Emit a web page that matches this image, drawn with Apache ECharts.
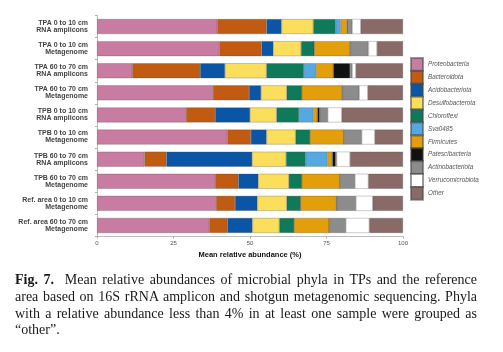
<!DOCTYPE html>
<html>
<head>
<meta charset="utf-8">
<script src="https://cdn.jsdelivr.net/npm/echarts@6/dist/echarts.min.js"></script>
<style>
  html, body { margin: 0; padding: 0; background: #fff; }
  #main { position: absolute; left: 0; top: 0; width: 503px; height: 352px; }
  #caption {
    position: absolute; left: 15px; top: 272px; width: 462px;
    font-family: "Liberation Serif", "DejaVu Serif", serif;
    font-size: 14px; line-height: 16.8px; color: #1a1a1a;
    text-align: justify;
  }
</style>
</head>
<body>
<div id="main"></div>
<div id="caption"><b>Fig. 7.</b>&nbsp; Mean relative abundances of microbial phyla in TPs and the reference area based on 16S rRNA amplicon and shotgun metagenomic sequencing. Phyla with a relative abundance less than 4% in at least one sample were grouped as “other”.</div>
<script>
// 样本（从上到下）
var samples = [
  'TPA 0 to 10 cm\nRNA amplicons',
  'TPA 0 to 10 cm\nMetagenome',
  'TPA 60 to 70 cm\nRNA amplicons',
  'TPA 60 to 70 cm\nMetagenome',
  'TPB 0 to 10 cm\nRNA amplicons',
  'TPB 0 to 10 cm\nMetagenome',
  'TPB 60 to 70 cm\nRNA amplicons',
  'TPB 60 to 70 cm\nMetagenome',
  'Ref. area 0 to 10 cm\nMetagenome',
  'Ref. area 60 to 70 cm\nMetagenome'
];

// 各门的相对丰度 (%)
var proteobacteria    = [39.3, 40.0, 11.5, 37.9, 29.1, 42.6, 15.5, 38.6, 38.9, 36.7];
var bacteroidota      = [16.1, 13.8, 22.2, 11.8,  9.5,  7.7,  7.2,  7.6,  6.2,  5.9];
var acidobacteriota   = [ 4.9,  3.8,  8.1,  3.9, 11.4,  5.1, 28.0,  6.5,  7.3,  8.2];
var desulfobacterota  = [10.4,  9.1, 13.6,  8.4,  8.7,  9.5, 11.1, 10.0,  9.6,  8.8];
var chloroflexi       = [ 7.3,  4.3, 12.2,  4.9,  7.3,  4.7,  6.4,  4.2,  4.5,  4.8];
var sva0485           = [ 1.6,  0,    4.0,  0,    4.7,  0,    7.1,  0,    0,    0  ];
var firmicutes        = [ 2.1, 11.8,  5.6, 13.3,  1.3, 11.1,  1.6, 12.5, 11.8, 11.5];
var patescibacteria   = [ 0.3,  0,    5.5,  0,    0.8,  0,    1.1,  0,    0,    0  ];
var actinobacteriota  = [ 1.4,  5.9,  0.7,  5.5,  2.6,  5.8,  0.3,  4.9,  6.3,  5.4];
var verrucomicrobiota = [ 2.8,  2.8,  1.2,  2.8,  4.6,  4.3,  4.4,  4.4,  5.5,  7.7];
var other             = [13.8,  8.5, 15.4, 11.5, 20.0,  9.2, 17.3, 11.3,  9.9, 11.0];

var xTicks = [0, 25, 50, 75, 100];

var phyla = [
  { name: 'Proteobacteria',    data: proteobacteria,    color: '#C97CA1' },
  { name: 'Bacteroidota',      data: bacteroidota,      color: '#C25B12' },
  { name: 'Acidobacteriota',   data: acidobacteriota,   color: '#0B55A6' },
  { name: 'Desulfobacterota',  data: desulfobacterota,  color: '#FADE5C' },
  { name: 'Chloroflexi',       data: chloroflexi,       color: '#0E7A5A' },
  { name: 'Sva0485',           data: sva0485,           color: '#56A8E0' },
  { name: 'Firmicutes',        data: firmicutes,        color: '#E39E0C' },
  { name: 'Patescibacteria',   data: patescibacteria,   color: '#111111' },
  { name: 'Actinobacteriota',  data: actinobacteriota,  color: '#8C8C8C' },
  { name: 'Verrucomicrobiota', data: verrucomicrobiota, color: '#FFFFFF' },
  { name: 'Other',             data: other,             color: '#8A6A66' }
];

var chart = echarts.init(document.getElementById('main'), null, { renderer: 'canvas' });

var series = phyla.map(function (p) {
  return {
    name: p.name,
    type: 'bar',
    stack: 'all',
    barWidth: 15,
    data: p.data,
    itemStyle: { color: p.color, borderColor: 'rgba(70,70,70,0.55)', borderWidth: 0.5 },
    emphasis: { disabled: true }
  };
});

chart.setOption({
  animation: false,
  backgroundColor: '#fff',
  grid: { left: 97, top: 15.5, width: 306, height: 221, containLabel: false },
  legend: {
    orient: 'vertical',
    left: 410,
    top: 57,
    padding: 0,
    itemWidth: 12,
    itemHeight: 12.8,
    itemGap: -1.9,
    icon: 'rect',
    data: phyla.map(function (p) { return p.name; }),
    textStyle: {
      fontFamily: 'Liberation Sans, Arial, sans-serif',
      fontSize: 6.3,
      lineHeight: 8,
      fontStyle: 'italic',
      color: '#555'
    }
  },
  xAxis: {
    type: 'value',
    min: xTicks[0],
    max: xTicks[xTicks.length - 1],
    interval: 25,
    name: 'Mean relative abundance (%)',
    nameLocation: 'middle',
    nameGap: 12,
    nameTextStyle: {
      fontFamily: 'Liberation Sans, Arial, sans-serif',
      fontSize: 7.5, fontWeight: 'bold', color: '#111'
    },
    axisLine: { show: true, lineStyle: { color: '#aaa', width: 0.8 } },
    axisTick: { show: true, length: 2, lineStyle: { color: '#aaa' } },
    axisLabel: {
      fontFamily: 'Liberation Sans, Arial, sans-serif',
      fontSize: 6, color: '#555', margin: 4
    },
    splitLine: { show: false }
  },
  yAxis: {
    type: 'category',
    inverse: true,
    data: samples,
    axisLine: { show: true, lineStyle: { color: '#aaa', width: 0.8 } },
    axisTick: { show: true, length: 2, lineStyle: { color: '#aaa' } },
    axisLabel: {
      fontFamily: 'Liberation Sans, Arial, sans-serif',
      fontSize: 7, fontWeight: 'bold', color: '#444',
      lineHeight: 7, margin: 9, align: 'right'
    }
  },
  series: series
});
</script>
</body>
</html>
